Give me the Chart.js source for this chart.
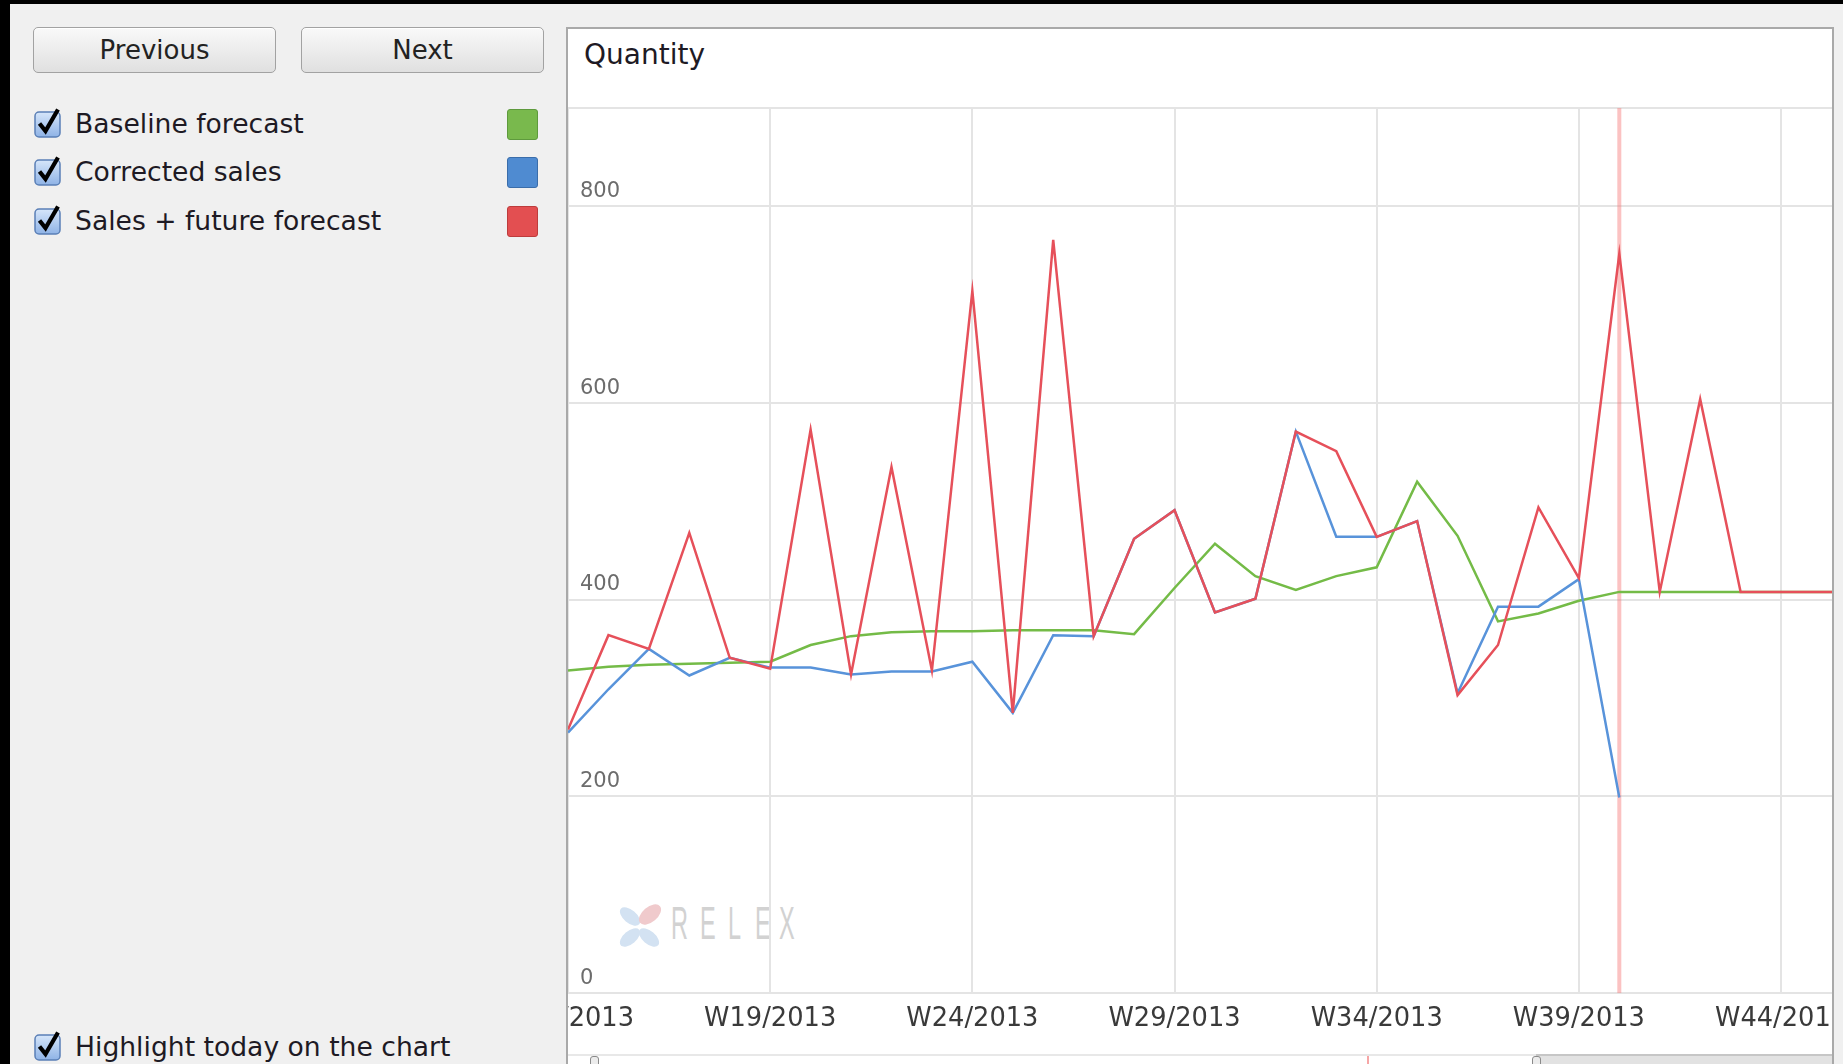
<!DOCTYPE html>
<html>
<head>
<meta charset="utf-8">
<title>Quantity</title>
<script src="https://cdn.jsdelivr.net/npm/chart.js@4.4.1/dist/chart.umd.min.js"></script>
<style>
  html, body { margin: 0; padding: 0; background: #000; }
  body { width: 1843px; height: 1064px; overflow: hidden; position: relative; font-family: "DejaVu Sans", sans-serif; color: #1e1a24; }
  #app { position: absolute; left: 10px; top: 4px; right: 0; bottom: 0; background: #f0f0f0; }
  .btn { position: absolute; top: 27px; width: 241px; height: 44px; border: 1px solid #a2a2a2; border-radius: 5px;
         background: linear-gradient(#f9f9f9, #e0e0e0); box-shadow: inset 0 1px 0 #fff;
         font-size: 26px; line-height: 45px; text-align: center; color: #222; }
  .row { position: absolute; left: 34px; height: 32px; }
  .row svg { position: absolute; left: 0; top: 0; overflow: visible; }
  .row span { position: absolute; left: 41px; top: 0; line-height: 32px; font-size: 26.6px; white-space: nowrap; }
  .swatch { position: absolute; left: 507px; width: 29px; height: 29px; border-radius: 3px; }
  #panel { position: absolute; left: 566px; top: 27px; width: 1264px; height: 1100px; background: #fff;
           border: 2px solid #a9a9a9; border-bottom: none; }
  #title { position: absolute; left: 584px; top: 38px; font-size: 28px; line-height: 34px; color: #1e1a24; }
  #headline { position: absolute; left: 568px; top: 107px; width: 1264px; height: 2px; background: #e4e4e4; }
  #wm { position: absolute; left: 616px; top: 898px; width: 200px; height: 54px; }
  .petal { position: absolute; width: 24px; height: 13px; border-radius: 50%; background: #d3e2f2; }
  .wl { position: absolute; top: 0; font-family: "Liberation Sans", sans-serif; font-size: 47px; line-height: 50px;
        color: #d2d2d2; transform: scaleX(0.5); transform-origin: left top; }
  #plotclip { position: absolute; left: 568px; top: 108px; width: 1264px; height: 946px; overflow: hidden; }
  #plotclip canvas { position: absolute; left: 0; top: 0; }
  #scroll { position: absolute; left: 568px; top: 1054px; width: 1264px; height: 12px; background: #fff; border-top: 2px solid #e8e8e8; }
  #scrollrest { position: absolute; left: 968px; top: 0; width: 296px; height: 12px; background: #e2e2e2; border-top: 2px solid #c6c6c6; margin-top: -2px; }
  .handle { position: absolute; top: 0; width: 7px; height: 14px; border: 1px solid #8a8a8a; border-radius: 3px; background: #ececec; }
  #scrolltoday { position: absolute; left: 799px; top: 0; width: 2px; height: 12px; background: #f6a6a6; }
</style>
</head>
<body>
<div id="app"></div>

<div class="btn" style="left:33px">Previous</div>
<div class="btn" style="left:301px">Next</div>

<div class="row" style="top:108px"><svg class="cb"></svg><span>Baseline forecast</span></div>
<div class="row" style="top:156px"><svg class="cb"></svg><span>Corrected sales</span></div>
<div class="row" style="top:205px"><svg class="cb"></svg><span>Sales + future forecast</span></div>
<div class="swatch" style="top:109px; background:#79b94d; border:1px solid #5e9a3d"></div>
<div class="swatch" style="top:157px; background:#4f8bd1; border:1px solid #3a6daa"></div>
<div class="swatch" style="top:206px; background:#e34f51; border:1px solid #bd3c3c"></div>

<div class="row" style="top:1031px"><svg class="cb"></svg><span>Highlight today on the chart</span></div>

<div id="panel"></div>
<div id="title">Quantity</div>
<div id="headline"></div>

<div id="wm">
  <div class="petal" style="left:2px; top:12px; transform:rotate(40deg)"></div>
  <div class="petal" style="left:21px; top:9px; width:26px; height:15px; background:#f0cacc; transform:rotate(-40deg)"></div>
  <div class="petal" style="left:2px; top:33px; transform:rotate(-40deg)"></div>
  <div class="petal" style="left:21px; top:33px; transform:rotate(40deg)"></div>
  <span class="wl" style="left:55px">R</span>
  <span class="wl" style="left:84px">E</span>
  <span class="wl" style="left:112px">L</span>
  <span class="wl" style="left:139px">E</span>
  <span class="wl" style="left:163px">X</span>
</div>

<div id="plotclip"><canvas id="grafico" width="1428" height="968"></canvas></div>

<div id="scroll">
  <div id="scrolltoday"></div>
  <div id="scrollrest"></div>
  <div class="handle" style="left:22px"></div>
  <div class="handle" style="left:964px"></div>
</div>

<script>
// dados (semanas de 2013)
const ano = 2013;
const semanas = [14, 15, 16, 17, 18, 19, 20, 21, 22, 23, 24, 25, 26, 27, 28, 29, 30,
                 31, 32, 33, 34, 35, 36, 37, 38, 39, 40, 41, 42, 43, 44, 45, 46];
const baselineForecast = [328, 332, 334, 335, 336, 337, 354, 363, 367, 368, 368, 369, 369, 369, 365, 412, 457,
                          424, 410, 424, 433, 520, 465, 378, 386, 399, 408, 408, 408, 408, 408, 408, 408];
const correctedSales = [265, 309, 350, 323, 341, 331, 331, 324, 327, 327, 337, 285, 364, 363, 462, 491, 387,
                        401, 571, 464, 464, 480, 305, 393, 393, 421, 199, null, null, null, null, null, null];
const salesFutureForecast = [268, 364, 350, 468, 341, 330, 573, 324, 535, 328, 714, 285, 766, 363, 462, 491, 387,
                             401, 571, 551, 464, 480, 303, 354, 494, 422, 752, 408, 604, 408, 408, 408, 408];
const semanasTicks = [14, 19, 24, 29, 34, 39, 44];
const quantidadeTicks = [0, 200, 400, 600, 800];
const semanaHoje = 40;

// faixa visível do eixo
const xMin = 14;
const xMax = 45.26;
const yMax = 900;

const cores = { baseline: '#74bb47', corrigido: '#5893da', vendas: '#e6505a', hoje: 'rgba(246, 120, 120, 0.45)' };

function checkbox() {
  return '<defs><linearGradient id="g" x1="0" y1="0" x2="0" y2="1">' +
    '<stop offset="0" stop-color="#d6e6fa"/><stop offset="1" stop-color="#8fb3e6"/></linearGradient></defs>' +
    '<rect x="1" y="4" width="25" height="25" rx="4" fill="url(#g)" stroke="#5a7fb6" stroke-width="1.5"/>' +
    '<path d="M5.5 15.5 L11.5 23 L24 1.5" fill="none" stroke="#000" stroke-width="4.2" stroke-linejoin="miter"/>';
}
document.querySelectorAll('svg.cb').forEach(s => {
  s.setAttribute('width', '28');
  s.setAttribute('height', '30');
  s.innerHTML = checkbox();
});

function serie(valores) {
  return semanas.map((s, i) => ({ x: s, y: valores[i] }));
}

Chart.defaults.font.family = '"DejaVu Sans", sans-serif';

const canvas = document.getElementById('grafico');
const chart = new Chart(canvas.getContext('2d'), {
  type: 'line',
  data: {
    datasets: [
      { label: 'Sales + future forecast', data: serie(salesFutureForecast), borderColor: cores.vendas, order: 0 },
      { label: 'Corrected sales', data: serie(correctedSales), borderColor: cores.corrigido, order: 1 },
      { label: 'Baseline forecast', data: serie(baselineForecast), borderColor: cores.baseline, order: 2 },
      { label: 'Today', data: [{ x: semanaHoje, y: 0 }, { x: semanaHoje, y: yMax }], borderColor: cores.hoje, borderWidth: 4, order: 3 }
    ]
  },
  options: {
    responsive: false,
    animation: false,
    events: [],
    layout: { padding: { left: 60, right: 80, top: 30, bottom: 0 } },
    elements: {
      line: { borderWidth: 2.5, tension: 0, fill: false },
      point: { radius: 0 }
    },
    plugins: { legend: { display: false }, tooltip: { enabled: false } },
    scales: {
      x: {
        type: 'linear',
        min: xMin,
        max: xMax,
        afterBuildTicks: scale => { scale.ticks = semanasTicks.map(v => ({ value: v })); },
        ticks: {
          callback: v => `W${v}/${ano}`,
          font: { size: 25.7 },
          color: '#3a3a3a',
          padding: 11,
          maxRotation: 0,
          autoSkip: false
        },
        grid: { color: '#e4e4e4', lineWidth: 2, drawTicks: false },
        border: { display: false }
      },
      y: {
        min: 0,
        max: yMax,
        afterBuildTicks: scale => { scale.ticks = quantidadeTicks.map(v => ({ value: v })); },
        ticks: {
          mirror: true,
          padding: 12,
          labelOffset: -15,
          font: { size: 21 },
          color: '#6c6c6c'
        },
        grid: { color: '#e4e4e4', lineWidth: 2, drawTicks: false },
        border: { display: false }
      }
    }
  }
});

// alinha a área do gráfico com o painel (rótulos das pontas ficam cortados como no original)
const area = chart.chartArea;
canvas.style.left = (-area.left) + 'px';
canvas.style.top = (-area.top) + 'px';
</script>
</body>
</html>
